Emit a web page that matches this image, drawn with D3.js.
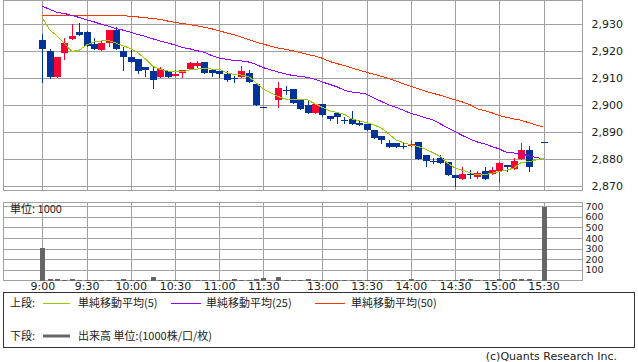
<!DOCTYPE html>
<html>
<head>
<meta charset="utf-8">
<script src="https://cdn.jsdelivr.net/npm/d3@7"></script>
<style>
  body { margin: 0; background: #fff; }
  svg text { font-family: "DejaVu Sans", sans-serif; font-size: 11px; fill: #222; }
  .jp { font-family: "Noto Sans CJK JP", sans-serif; }
  .vol-axis text { font-size: 9.5px; }
</style>
</head>
<body>
<svg id="chart" width="638" height="362"></svg>
<script>
// 5-minute slots, 11:35 and 15:25 have no trades
const times = [
  "9:00","9:05","9:10","9:15","9:20","9:25","9:30","9:35","9:40","9:45","9:50","9:55",
  "10:00","10:05","10:10","10:15","10:20","10:25","10:30","10:35","10:40","10:45","10:50","10:55",
  "11:00","11:05","11:10","11:15","11:20","11:25","11:30","11:35",
  "12:30","12:35","12:40","12:45","12:50","12:55",
  "13:00","13:05","13:10","13:15","13:20","13:25","13:30","13:35","13:40","13:45","13:50","13:55",
  "14:00","14:05","14:10","14:15","14:20","14:25","14:30","14:35","14:40","14:45","14:50","14:55",
  "15:00","15:05","15:10","15:15","15:20","15:25","15:30"
];

const open = [2924,2920,2910.5,2919.5,2924.5,2927,2927,2922.5,2920.5,2923,2928,2920,
  2918,2917,2914,2912.5,2910.5,2912.5,2911,2912,2913.5,2914.5,2916,2913,
  2912.5,2911.5,2910,2910.5,2912,2908,2899.5,null,
  2902,2905.5,2906,2902,2900,2897,
  2900.5,2896,2897,2894.5,2895,2893.5,2893,2891,2888.5,2886,2886,2885,
  2885,2886.5,2881.5,2879.5,2880.5,2879,2874,2872.5,2874.5,2873.5,2875.5,2874.5,
  2875.5,2878,2876.5,2880,2883.5,null,2886.5];
const high = [2926.5,2921,2918,2925,2930,2930.5,2927.5,2925,2924,2928,2929,2921.5,
  2920.5,2917,2914,2914.5,2914,2912.5,2913,2913,2916,2916.5,2916,2913,
  2912.5,2912.5,2911,2914.5,2913,2908,2899.5,null,
  2908.5,2907,2906,2902,2901.5,2900.5,
  2900.5,2896,2897,2895.5,2898,2894,2893,2891,2888.5,2887,2886,2886,
  2887,2886.5,2881.5,2880.5,2881.5,2879,2874,2877,2876,2875.5,2877,2877,
  2879,2878,2880.5,2886,2885,null,2886.5];
const low = [2908.5,2910,2910.5,2917,2924.5,2926,2922,2921,2920.5,2922,2921,2913,
  2916,2912,2911,2906.5,2910.5,2910.5,2911,2910.5,2913.5,2914,2912,2911,
  2910.5,2909,2908.5,2910.5,2908.5,2900,2899.5,null,
  2899.5,2904,2901,2898.5,2897,2897,
  2896,2894.5,2893.5,2893.5,2893,2892.5,2891,2888,2886,2884.5,2884.5,2884,
  2885,2880,2877.5,2878.5,2878.5,2874,2870,2872.5,2873,2873,2872.5,2874.5,
  2871.5,2875.5,2876.5,2880,2875.5,null,2886.5];
const close = [2921,2910.5,2918,2923,2925.5,2926,2922,2921,2923,2928,2921,2918,
  2916,2912.5,2913,2909.5,2913.5,2910.5,2911.5,2913,2915.5,2915.5,2912,2912,
  2911.5,2909.5,2910,2912.5,2908.5,2900,2899.5,null,
  2906.5,2905.5,2901,2898.5,2897,2900.5,
  2896.5,2895,2895.5,2894.5,2893,2892.5,2891,2888,2887,2884.5,2884.5,2884.5,
  2885.5,2880,2879.5,2879.5,2878.5,2874,2873,2874.5,2874,2875,2872.5,2876,
  2878.5,2877,2879.5,2883.5,2877,null,2886.5];

const volume = [304,16,16,8,14,8,8,8,8,8,8,14,
  8,8,8,35,8,8,8,8,8,8,8,8,
  8,8,14,8,8,14,25,null,
  35,8,8,8,14,8,
  8,8,8,8,8,8,8,8,8,8,8,8,
  12,8,8,8,8,8,8,14,14,8,8,8,
  12,8,14,14,14,null,688];

const ma5 = [2932.4,2927.9,2925.7,2922.9,2919.9,2920.4,2922.3,2923.4,2923.8,2924.0,2923.0,2922.0,
  2921.0,2919.4,2917.1,2914.4,2913.3,2912.7,2912.4,2912.3,2913.1,2913.4,2913.6,2913.4,
  2913.3,2912.1,2911.4,2911.2,2910.6,2908.3,2906.0,null,
  2903.2,2902.3,2902.3,2902.1,2902.0,2900.5,
  2899.2,2897.9,2897.3,2896.6,2894.9,2894.2,2893.6,2892.7,2891.5,2889.4,2887.1,2886.1,
  2885.3,2884.7,2883.7,2882.4,2881.0,2878.5,2876.7,2875.9,2875.0,2874.2,2874.2,2874.8,
  2875.4,2876.0,2876.7,2878.9,2879.0,null,2880.4];
const ma25 = [2936.7,2935.5,2934.4,2934.0,2933.3,2932.5,2931.6,2930.9,2930.0,2929.3,2928.4,2927.8,
  2927.0,2926.2,2925.5,2924.6,2923.8,2923.1,2922.3,2921.4,2920.9,2920.2,2919.6,2918.4,
  2917.5,2917.0,2916.6,2916.4,2916.0,2915.1,2913.9,null,
  2912.3,2911.6,2911.0,2910.7,2910.3,2909.6,
  2908.6,2907.7,2906.8,2905.5,2904.9,2904.6,2904.1,2902.7,2901.4,2900.1,2899.2,2898.1,
  2897.0,2896.2,2895.3,2894.6,2893.1,2891.6,2890.2,2888.8,2887.5,2886.4,2885.7,2884.7,
  2883.8,2882.5,2882.3,2882.0,2881.2,null,2880.1];
const ma50 = [2933.3,2933.3,2933.3,2933.3,2933.3,2933.3,2933.3,2933.3,2933.3,2933.2,2933.2,2933.1,
  2933.0,2932.7,2932.4,2932.1,2931.8,2931.2,2930.7,2930.3,2929.9,2929.4,2928.9,2928.3,
  2927.6,2926.8,2926.1,2925.2,2924.3,2923.4,2922.6,null,
  2921.2,2920.7,2920.2,2919.5,2918.8,2918.2,
  2917.4,2916.2,2915.4,2914.7,2913.8,2913.0,2912.2,2911.5,2910.7,2909.9,2909.0,2907.9,
  2907.0,2906.1,2905.2,2904.4,2903.7,2902.8,2902.0,2901.2,2900.2,2898.7,2898.0,2897.2,
  2896.2,2895.5,2894.9,2894.4,2893.5,null,2891.9];

const timeTicks = ["9:00","9:30","10:00","10:30","11:00","11:30","13:00","13:30","14:00","14:30","15:00","15:30"];
const priceTicks = [2870, 2880, 2890, 2900, 2910, 2920, 2930];
const volTicks = [100, 200, 300, 400, 500, 600, 700];

const svg = d3.select('#chart');
const left = 3.5, right = 582.5;
const top1 = 0.5, bottom1 = 190.5;
const top2 = 202.5, bottom2 = 280.5;
const gridColor = '#a0a0a0';
const upColor = '#ff0033', downColor = '#003399';

const x = d3.scalePoint().domain(times).range([42.3, 543.5]);
const y = d3.scaleLinear().domain([2868.4, 2938.8]).range([bottom1, top1]);
const yv = d3.scaleLinear().domain([0, 735]).range([bottom2, top2]);

const crisp = v => Math.round(v) + 0.5;

// grids and frames
function drawGrid(g, yScale, ticks, y0, y1) {
  g.selectAll('.h').data(ticks).enter().append('line')
    .attr('x1', left).attr('x2', right)
    .attr('y1', d => crisp(yScale(d))).attr('y2', d => crisp(yScale(d)))
    .attr('stroke', gridColor);
  g.selectAll('.v').data(timeTicks).enter().append('line')
    .attr('x1', d => crisp(x(d))).attr('x2', d => crisp(x(d)))
    .attr('y1', y0).attr('y2', y1)
    .attr('stroke', gridColor);
  g.append('rect')
    .attr('x', left).attr('y', y0)
    .attr('width', right - left).attr('height', y1 - y0)
    .attr('fill', 'none').attr('stroke', gridColor);
}
drawGrid(svg.append('g'), y, priceTicks, top1, bottom1);
drawGrid(svg.append('g'), yv, volTicks, top2, bottom2);

// candles
const candles = times.map((t, i) => ({ t, o: open[i], h: high[i], l: low[i], c: close[i] }))
  .filter(d => d.o != null);

const cg = svg.append('g').attr('shape-rendering', 'crispEdges');
cg.selectAll('line.wick').data(candles).enter().append('line')
  .attr('x1', d => crisp(x(d.t))).attr('x2', d => crisp(x(d.t)))
  .attr('y1', d => Math.round(y(d.h))).attr('y2', d => Math.round(y(d.l)) + 1)
  .attr('stroke', d => d.c > d.o ? upColor : downColor);
cg.selectAll('rect.body').data(candles).enter().append('rect')
  .attr('x', d => Math.round(x(d.t)) - 3)
  .attr('y', d => Math.round(y(Math.max(d.o, d.c))))
  .attr('width', 7)
  .attr('height', d => Math.max(1, Math.round(y(Math.min(d.o, d.c))) - Math.round(y(Math.max(d.o, d.c)))))
  .attr('fill', d => d.c > d.o ? upColor : downColor);

// moving averages
const maLine = d3.line().x(d => x(d.t)).y(d => y(d.v));
[[ma50, '#ff3300'], [ma25, '#9900ff'], [ma5, '#99cc00']].forEach(([vals, col]) => {
  const pts = times.map((t, i) => ({ t, v: vals[i] })).filter(d => d.v != null);
  svg.append('path')
    .datum(pts)
    .attr('d', maLine)
    .attr('fill', 'none')
    .attr('stroke', col)
    .attr('stroke-width', 1)
    .attr('shape-rendering', 'crispEdges');
});

// volume bars
const vols = times.map((t, i) => ({ t, v: volume[i] })).filter(d => d.v != null);
svg.append('g').attr('shape-rendering', 'crispEdges')
  .selectAll('rect').data(vols).enter().append('rect')
  .attr('x', d => Math.round(x(d.t)) - 2)
  .attr('y', d => Math.round(yv(d.v)))
  .attr('width', 5)
  .attr('height', d => Math.max(1, Math.round(bottom2) - Math.round(yv(d.v))))
  .attr('fill', '#666');

// axes
const priceAxis = svg.append('g')
  .attr('transform', `translate(${right},0)`)
  .call(d3.axisRight(y).tickValues(priceTicks).tickFormat(d3.format(',')).tickSize(0).tickPadding(9));
const volAxis = svg.append('g')
  .attr('class', 'vol-axis')
  .attr('transform', `translate(${right},0)`)
  .call(d3.axisRight(yv).tickValues(volTicks).tickSize(0).tickPadding(3));
const timeAxis = svg.append('g')
  .attr('transform', `translate(0,${bottom2})`)
  .call(d3.axisBottom(x).tickValues(timeTicks).tickSize(0).tickPadding(1.5));
[priceAxis, volAxis, timeAxis].forEach(a => {
  a.select('.domain').remove();
  a.attr('font-family', null).attr('font-size', null);
  a.selectAll('text').attr('fill', '#222');
});

svg.append('text').attr('class', 'jp')
  .attr('x', 10).attr('y', 213)
  .text('単位: 1000');

// legend
const lg = svg.append('g');
lg.append('rect')
  .attr('x', 3.5).attr('y', 292.5).attr('width', 631).attr('height', 55)
  .attr('fill', 'none').attr('stroke', '#333');
lg.append('text').attr('class', 'jp').attr('x', 10).attr('y', 307).text('上段:');
lg.append('text').attr('class', 'jp').attr('x', 10).attr('y', 340).text('下段:');
const legendItems = [
  { x1: 43, x2: 70, tx: 78, col: '#99cc00', label: '単純移動平均(5)' },
  { x1: 171, x2: 201, tx: 206, col: '#9900ff', label: '単純移動平均(25)' },
  { x1: 315, x2: 345, tx: 351, col: '#ff3300', label: '単純移動平均(50)' }
];
legendItems.forEach(d => {
  lg.append('line').attr('x1', d.x1).attr('x2', d.x2).attr('y1', 303.5).attr('y2', 303.5)
    .attr('stroke', d.col);
  lg.append('text').attr('class', 'jp').attr('x', d.tx).attr('y', 307).text(d.label);
});
lg.append('line').attr('x1', 43).attr('x2', 70).attr('y1', 336).attr('y2', 336)
  .attr('stroke', '#666').attr('stroke-width', 3);
lg.append('text').attr('class', 'jp').attr('x', 78).attr('y', 340).text('出来高 単位:(1000株/口/枚)');

svg.append('text')
  .attr('x', 617).attr('y', 360)
  .attr('text-anchor', 'end')
  .attr('fill', '#333')
  .text('(c)Quants Research Inc.');
</script>
</body>
</html>
